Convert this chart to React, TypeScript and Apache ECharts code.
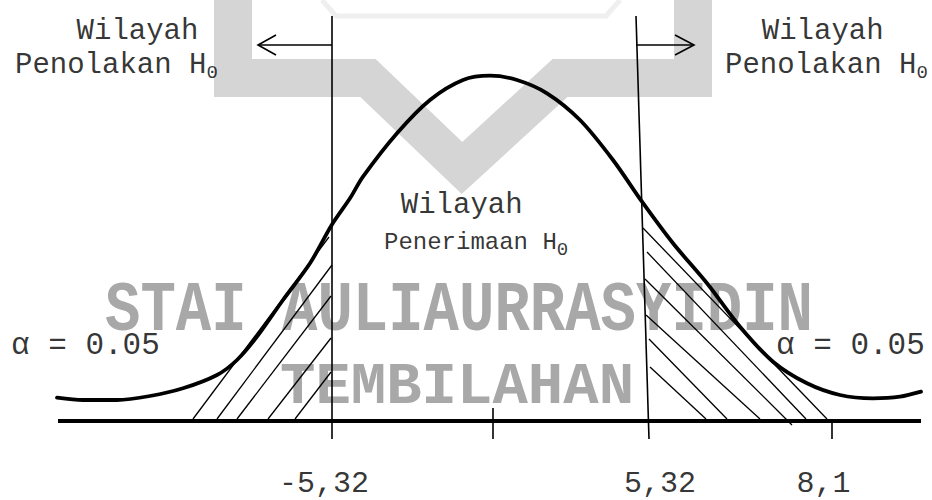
import React, { useEffect, useRef } from "react";
import * as echarts from "echarts";

// Picture units: x 0..932, y 0..500 (downwards).
const curvePoints: [number, number][] = [
  [57, 397.7], [83, 400], [117, 400], [150, 396], [183, 388.3], [217, 375],
  [237, 360], [257, 336.7], [283, 300], [310, 263.3], [332, 224.5], [350, 198.3],
  [363, 176.7], [397, 133.3], [430, 100], [463, 80], [490, 75.7], [517, 80],
  [547, 93.3], [580, 120], [613, 160], [642, 201.7], [673, 243.3], [707, 283.3],
  [740, 326.7], [773, 361.7], [807, 383.3], [840, 395], [873, 398.3], [900, 396.7],
  [921, 391.7],
];

const baselineSeg: [number, number][] = [[58, 421], [921, 421]];

const criticalLines: [number, number][][] = [
  [[332, 16], [332, 439]],
  [[636, 16], [649, 439]],
];

const tickMarks: [number, number][][] = [
  [[493, 408], [493, 439]],
  [[832, 421], [832, 439]],
];

const arrowShafts: [number, number][][] = [
  [[332, 45], [259, 45]],
  [[636, 45], [693, 45]],
];

const arrowHeads: [number, number][][] = [
  [[276, 35], [258, 45], [276, 55]],
  [[675, 35], [694, 45], [675, 55]],
];

const hatchLeft: [number, number][][] = [
  [[193, 419], [329, 237]],
  [[217, 419], [332, 265]],
  [[237, 419], [331, 296]],
  [[268, 419], [331, 338]],
  [[295, 419], [331, 372]],
];

const hatchRight: [number, number][][] = [
  [[643, 228], [827, 419]],
  [[647, 252], [806, 419]],
  [[645, 279], [792, 425]],
  [[646, 315], [760, 419]],
  [[649, 339], [727, 419]],
  [[650, 367], [706, 419]],
];

const regionTexts = [
  "{m|Wilayah}",
  "{m|Penolakan H}{s|0}",
  "{m|Wilayah}",
  "{m|Penolakan H}{s|0}",
  "{m|Wilayah}",
  "{n|Penerimaan H}{s|0}",
];
const regionTextPos: [number, number][] = [
  [137.5, 31.6], [15, 65], [822.7, 31.6], [725, 65], [461.7, 205.6], [384, 242],
];
const regionTextAlign = ["center", "left", "center", "left", "center", "left"];

const alphaTexts = ["\u03b1 = 0.05", "\u03b1 = 0.05"];
const alphaTextPos: [number, number][] = [[11, 345.7], [776, 345.7]];

const tickLabels = ["-5,32", "5,32", "8,1"];
const tickLabelPos: [number, number][] = [[324, 483.5], [660, 483.5], [823.5, 483.5]];

const watermarkLines = ["STAI AULIAURRASYIDIN", "TEMBILAHAN"];

const MONO = "Liberation Mono, Courier New, Cousine, monospace";

export default function App() {
  const ref = useRef<HTMLDivElement>(null);
  useEffect(() => {
    if (!ref.current) return;
    const chart = echarts.init(ref.current, undefined, { renderer: "svg" });

    const seg = (arr: [number, number][][]) => arr.map((c) => ({ coords: c }));
    const linesSeries = (name: string, data: [number, number][][], width: number, polyline = false) => ({
      name,
      type: "lines",
      coordinateSystem: "cartesian2d",
      polyline,
      silent: true,
      z: 3,
      lineStyle: { color: "#000", width, opacity: 1, cap: "butt" },
      data: seg(data),
    });

    const rich = {
      m: { fontSize: 29, lineHeight: 34, fontFamily: MONO, color: "#000" },
      n: { fontSize: 24, lineHeight: 34, fontFamily: MONO, color: "#000" },
      s: { fontSize: 19, lineHeight: 21, fontFamily: MONO, color: "#000", verticalAlign: "bottom" },
    };

    const textData = [
      ...regionTexts.map((t, i) => ({
        value: regionTextPos[i],
        label: { formatter: t, align: regionTextAlign[i], rich },
      })),
      ...alphaTexts.map((t, i) => ({
        value: alphaTextPos[i],
        label: { formatter: t, align: "left", fontSize: 31 },
      })),
      ...tickLabels.map((t, i) => ({
        value: tickLabelPos[i],
        label: { formatter: t, align: "center", fontSize: 30, lineHeight: 28 },
      })),
    ];

    chart.setOption({
      animation: false,
      backgroundColor: "#fff",
      grid: { left: 0, right: 0, top: 0, bottom: 0 },
      xAxis: { type: "value", min: 0, max: 932, show: false },
      yAxis: { type: "value", min: 0, max: 500, inverse: true, show: false },
      graphic: [
        {
          type: "polyline",
          z: 0,
          silent: true,
          shape: { points: [[233, -30], [233, 78], [368, 78], [462, 168], [560, 78], [693, 78], [693, -30]] },
          style: { stroke: "#d5d5d5", lineWidth: 38, fill: null, lineJoin: "miter", miterLimit: 10 },
        },
        {
          type: "polyline",
          z: 0,
          silent: true,
          shape: { points: [[322, 0], [336, 16], [606, 16], [620, 0]] },
          style: { stroke: "#efefef", lineWidth: 5, fill: null },
        },
        {
          type: "text",
          z: 1,
          silent: true,
          x: 105,
          y: 312,
          scaleY: 1.2,
          style: {
            text: watermarkLines[0], x: 0, y: 0, fill: "#a8a8a8",
            font: "bold 59px " + MONO,
            align: "left", verticalAlign: "middle", textAlign: "left", textVerticalAlign: "middle",
          },
        },
        {
          type: "text",
          z: 1,
          silent: true,
          x: 280,
          y: 387,
          style: {
            text: watermarkLines[1], x: 0, y: 0, fill: "#a8a8a8",
            font: "bold 59px " + MONO,
            align: "left", verticalAlign: "middle", textAlign: "left", textVerticalAlign: "middle",
          },
        },
      ],
      series: [
        {
          name: "curve",
          type: "line",
          data: curvePoints,
          smooth: 0.3,
          showSymbol: false,
          silent: true,
          z: 4,
          lineStyle: { color: "#000", width: 3.8, cap: "round" },
        },
        {
          name: "baseline",
          type: "line",
          data: baselineSeg,
          showSymbol: false,
          silent: true,
          z: 4,
          lineStyle: { color: "#000", width: 3.8 },
        },
        linesSeries("critical", criticalLines, 1.6),
        linesSeries("ticks", tickMarks, 1.6),
        linesSeries("arrowShafts", arrowShafts, 1.6),
        linesSeries("arrowHeads", arrowHeads, 1.6, true),
        linesSeries("hatchLeft", hatchLeft, 1.3),
        linesSeries("hatchRight", hatchRight, 1.3),
        {
          name: "texts",
          type: "scatter",
          symbolSize: 0,
          silent: true,
          z: 5,
          itemStyle: { color: "transparent" },
          label: {
            show: true,
            position: "inside",
            verticalAlign: "middle",
            color: "#000",
            fontFamily: MONO,
            fontWeight: "normal",
          },
          data: textData,
        },
      ],
    });
    return () => chart.dispose();
  }, []);
  return <div ref={ref} style={{ position: "absolute", left: 0, top: 0, width: 932, height: 500 }} />;
}
